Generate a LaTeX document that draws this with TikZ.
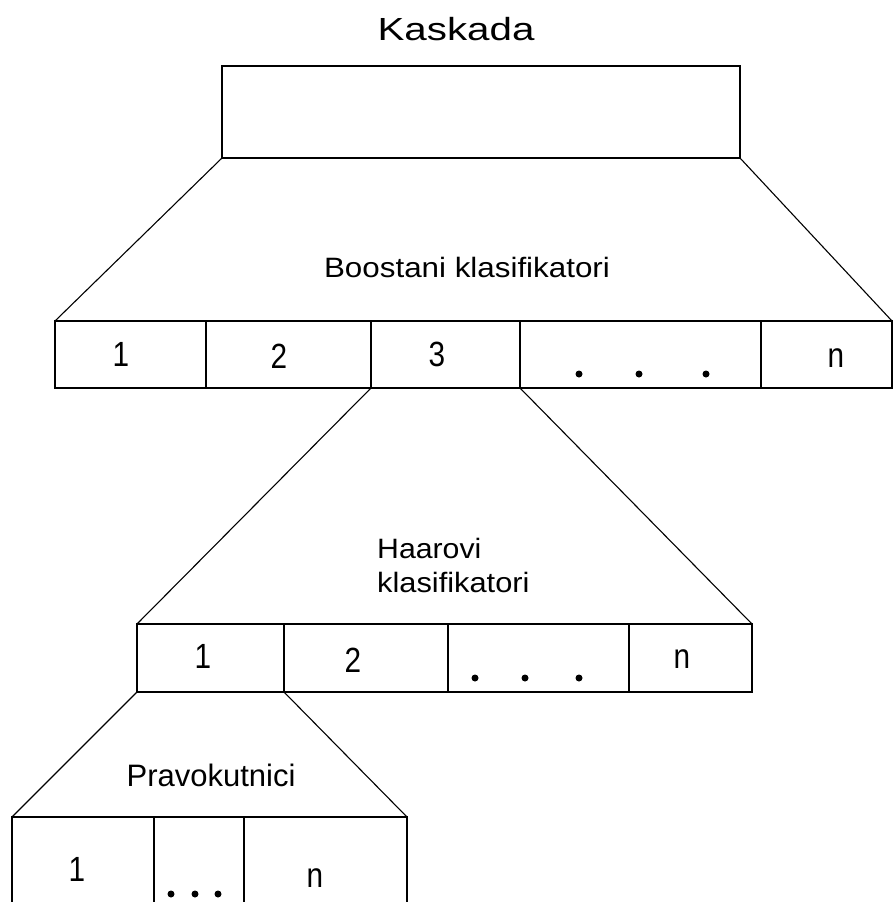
\documentclass[tikz,border=0pt]{standalone}
\usepackage{fontspec}
\setmainfont{Liberation Sans}
\usepackage{graphicx}
% horizontally stretched text
\newcommand\widetext[2]{\scalebox{#1}[1]{#2}}

\begin{document}
\begin{tikzpicture}[x=1pt,y=-1pt,
  cell/.style={draw, line width=2pt, inner sep=0pt, outer sep=0pt, anchor=north west},
  fan/.style={line width=1.1pt},
  lbl/.style={inner sep=0pt, anchor=base, font=\fontsize{28}{30}\selectfont},
  num/.style={inner sep=0pt, anchor=base, font=\fontsize{35}{37}\selectfont},
  dotmark/.style={circle, fill, inner sep=0pt, minimum size=7pt},
]
\useasboundingbox (0,0) rectangle (893,902);
\clip (0,0) rectangle (893,902);

% cascade
\node[inner sep=0pt, anchor=base, font=\fontsize{32}{34}\selectfont] (title) at (456,40) {\widetext{1.26}{Kaskada}};
\node[cell, minimum width=518pt, minimum height=92pt] (top) at (222,66) {};

% boosted classifiers
\node[lbl] (boost) at (467,277) {\widetext{1.12}{Boostani klasifikatori}};
\node[cell, minimum width=151pt, minimum height=67pt] (a1) at (55,321) {};
\node[cell, minimum width=165pt, minimum height=67pt] (a2) at (206,321) {};
\node[cell, minimum width=149pt, minimum height=67pt] (a3) at (371,321) {};
\node[cell, minimum width=241pt, minimum height=67pt] (a4) at (520,321) {};
\node[cell, minimum width=131pt, minimum height=67pt] (a5) at (761,321) {};
\node[num] (a1t) at (121,366) {\widetext{0.85}{1}};
\node[num] (a2t) at (279,368) {\widetext{0.85}{2}};
\node[num] (a3t) at (437,366) {\widetext{0.85}{3}};
\node[num] (a5t) at (836,367) {\widetext{0.85}{n}};
\node[dotmark] (a4d1) at (579,374) {};
\node[dotmark] (a4d2) at (639,374) {};
\node[dotmark] (a4d3) at (706,374) {};

% Haar classifiers
\node[lbl, anchor=base west] (haar1) at (377,558) {\widetext{1.08}{Haarovi}};
\node[lbl, anchor=base west] (haar2) at (377,592) {\widetext{1.1}{klasifikatori}};
\node[cell, minimum width=147pt, minimum height=68pt] (b1) at (137,624) {};
\node[cell, minimum width=164pt, minimum height=68pt] (b2) at (284,624) {};
\node[cell, minimum width=181pt, minimum height=68pt] (b3) at (448,624) {};
\node[cell, minimum width=123pt, minimum height=68pt] (b4) at (629,624) {};
\node[num] (b1t) at (203,668) {\widetext{0.85}{1}};
\node[num] (b2t) at (353,672) {\widetext{0.85}{2}};
\node[num] (b4t) at (682,668) {\widetext{0.85}{n}};
\node[dotmark] (b3d1) at (475,678) {};
\node[dotmark] (b3d2) at (525,678) {};
\node[dotmark] (b3d3) at (579,678) {};

% rectangles
\node[lbl, font=\fontsize{31}{33}\selectfont] (prav) at (211,786) {Pravokutnici};
\node[cell, minimum width=142pt, minimum height=120pt] (c1) at (12,817) {};
\node[cell, minimum width=90pt, minimum height=120pt] (c2) at (154,817) {};
\node[cell, minimum width=163pt, minimum height=120pt] (c3) at (244,817) {};
\node[num] (c1t) at (77,881) {\widetext{0.85}{1}};
\node[num] (c3t) at (315,887) {\widetext{0.85}{n}};
\node[dotmark] (c2d1) at (171,894) {};
\node[dotmark] (c2d2) at (195,894) {};
\node[dotmark] (c2d3) at (218,894) {};

% expansion fans
\draw[fan] (top.south west) -- (a1.north west);
\draw[fan] (top.south east) -- (a5.north east);
\draw[fan] (a3.south west) -- (b1.north west);
\draw[fan] (a3.south east) -- (b4.north east);
\draw[fan] (b1.south west) -- (c1.north west);
\draw[fan] (b1.south east) -- (c3.north east);
\end{tikzpicture}
\end{document}
